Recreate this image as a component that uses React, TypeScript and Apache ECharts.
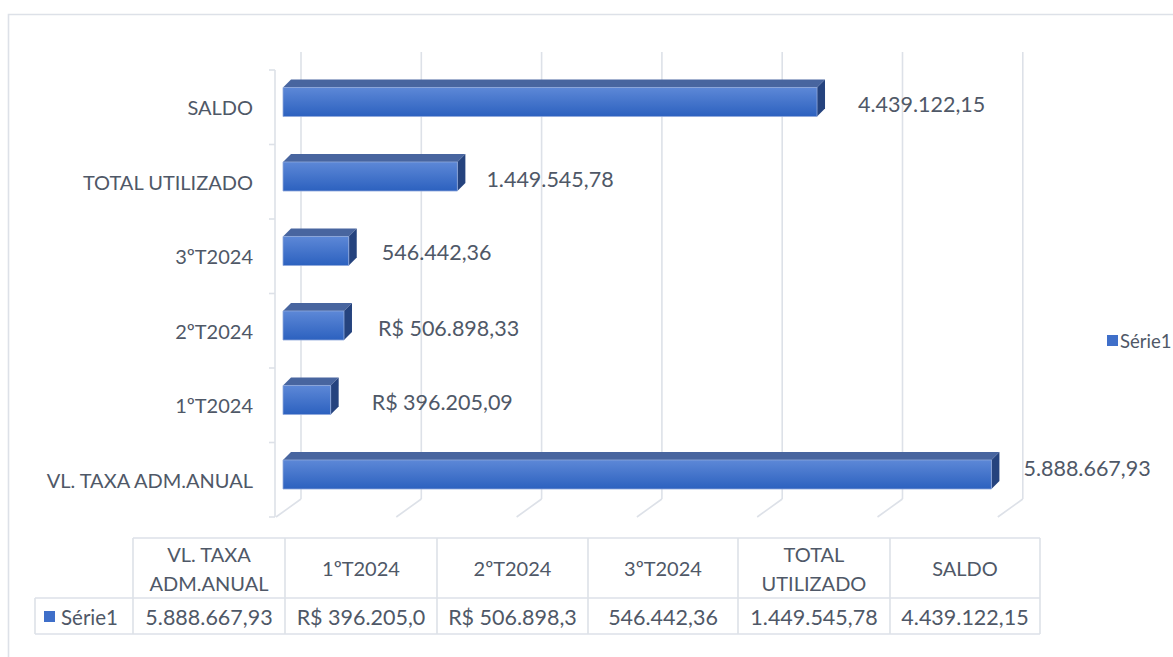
import React, { useEffect, useRef } from "react";
import * as echarts from "echarts";

// ---- data ----
const categories = ["VL. TAXA ADM.ANUAL", "1ºT2024", "2ºT2024", "3ºT2024", "TOTAL UTILIZADO", "SALDO"];
const values = [5888667.93, 396205.09, 506898.33, 546442.36, 1449545.78, 4439122.15];
const barLabels = ["5.888.667,93", "R$ 396.205,09", "R$ 506.898,33", "546.442,36", "1.449.545,78", "4.439.122,15"];
const tableHeaders = ["VL. TAXA\nADM.ANUAL", "1ºT2024", "2ºT2024", "3ºT2024", "TOTAL\nUTILIZADO", "SALDO"];
const tableValues = ["5.888.667,93", "R$ 396.205,0", "R$ 506.898,3", "546.442,36", "1.449.545,78", "4.439.122,15"];
const seriesName = "Série1";

// ---- style ----
const AXIS_MAX = 6000000;
const AXIS_STEP = 1000000;
const FONT = "Lato";
const TEXT = "#4f5867";
const LINE = "#dde1e8";
const VALUE_FS = 21.5;
const labelGap = [24, 33, 26, 25, 21, 33];
const labelDy = [-7, 2, 2, 1, 2, 2];

function renderFrame(params: any, api: any) {
  const cs = params.coordSys;
  const children: any[] = [];
  const DX = 25, DY = -18;
  const bottom = cs.y + cs.height;
  for (let v = 0; v <= AXIS_MAX; v += AXIS_STEP) {
    const xf = api.coord([v, 0])[0];
    children.push({
      type: "line",
      shape: { x1: xf + DX, y1: cs.y + DY, x2: xf + DX, y2: bottom + DY },
      style: { stroke: LINE, lineWidth: 1.6 },
    });
    children.push({
      type: "line",
      shape: { x1: xf + DX, y1: bottom + DY, x2: xf, y2: bottom },
      style: { stroke: LINE, lineWidth: 1.6 },
    });
  }
  const ax = cs.x - 1;
  children.push({
    type: "line",
    shape: { x1: ax, y1: cs.y, x2: ax, y2: bottom },
    style: { stroke: LINE, lineWidth: 1.6 },
  });
  const n = categories.length;
  for (let k = 0; k <= n; k++) {
    const y = cs.y + (cs.height * k) / n;
    children.push({
      type: "line",
      shape: { x1: ax - 6, y1: y, x2: ax, y2: y },
      style: { stroke: LINE, lineWidth: 1.6 },
    });
  }
  return { type: "group", children };
}

function renderBar(params: any, api: any) {
  const v = api.value(0);
  const c = api.value(1);
  const i = params.dataIndex;
  const p0 = api.coord([0, c]);
  const p1 = api.coord([v, c]);
  const band = api.size([0, 1])[1];
  const h = band * 0.39;
  const d = 8;
  const fx0 = p0[0] + 7;
  const fx1 = p1[0] + 7;
  const cy = p0[1] - 5.25;
  const yt = cy - h / 2;
  const yb = cy + h / 2;
  return {
    type: "group",
    children: [
      {
        type: "polygon",
        shape: { points: [[fx0, yt], [fx0 + d, yt - d], [fx1 + d, yt - d], [fx1, yt]] },
        style: { fill: "#48659f" },
      },
      {
        type: "polygon",
        shape: { points: [[fx1, yt], [fx1 + d, yt - d], [fx1 + d, yb - d], [fx1, yb]] },
        style: { fill: "#25437e" },
      },
      {
        type: "rect",
        shape: { x: fx0, y: yt, width: fx1 - fx0, height: h },
        style: {
          fill: new echarts.graphic.LinearGradient(0, 0, 0, 1, [
            { offset: 0, color: "#5d88d7" },
            { offset: 1, color: "#2c61bf" },
          ]),
          stroke: "#8fa8da",
          lineWidth: 0.8,
        },
      },
      {
        type: "text",
        style: {
          text: barLabels[i],
          x: fx1 + d + labelGap[i],
          y: cy + labelDy[i],
          align: "left",
          verticalAlign: "middle",
          fill: TEXT,
          fontSize: VALUE_FS,
          fontFamily: FONT,
        },
      },
    ],
  };
}

function buildTable() {
  const els: any[] = [];
  const colX = [133, 285, 437, 588, 738, 890, 1040];
  const yTop = 538, yMid = 598, yBot = 634;
  const ln = (x1: number, y1: number, x2: number, y2: number) => ({
    type: "line",
    shape: { x1, y1, x2, y2 },
    style: { stroke: LINE, lineWidth: 1.6 },
  });
  els.push(ln(133, yTop, 1040, yTop));
  els.push(ln(35, yMid, 1040, yMid));
  els.push(ln(35, yBot, 1040, yBot));
  els.push(ln(35, yMid, 35, yBot));
  colX.forEach((x) => els.push(ln(x, yTop, x, yBot)));
  tableHeaders.forEach((t, k) => {
    els.push({
      type: "text",
      style: {
        text: t,
        x: (colX[k] + colX[k + 1]) / 2,
        y: (yTop + yMid) / 2,
        align: "center",
        verticalAlign: "middle",
        fill: TEXT,
        fontSize: 20,
        lineHeight: 29,
        fontFamily: FONT,
      },
    });
  });
  tableValues.forEach((t, k) => {
    els.push({
      type: "text",
      style: {
        text: t,
        x: (colX[k] + colX[k + 1]) / 2,
        y: (yMid + yBot) / 2 + 1,
        align: "center",
        verticalAlign: "middle",
        fill: TEXT,
        fontSize: VALUE_FS,
        fontFamily: FONT,
      },
    });
  });
  els.push({ type: "rect", shape: { x: 44, y: 611, width: 11, height: 11 }, style: { fill: "#3f6fc9" } });
  els.push({
    type: "text",
    style: {
      text: seriesName,
      x: 61,
      y: 617,
      align: "left",
      verticalAlign: "middle",
      fill: TEXT,
      fontSize: 20.5,
      fontFamily: FONT,
    },
  });
  els.push({
    type: "rect",
    shape: { x: 8.5, y: 14.5, width: 1300, height: 800 },
    style: { fill: "none", stroke: LINE, lineWidth: 1.6 },
    z: -1,
  });
  return els;
}

export default function App() {
  const ref = useRef<HTMLDivElement>(null);
  useEffect(() => {
    if (!ref.current) return;
    const chart = echarts.init(ref.current, null, { renderer: "svg" });
    chart.setOption({
      animation: false,
      backgroundColor: "#ffffff",
      grid: { left: 276, top: 70, width: 721.8, height: 447, containLabel: false },
      xAxis: {
        type: "value",
        min: 0,
        max: AXIS_MAX,
        interval: AXIS_STEP,
        show: false,
      },
      yAxis: {
        type: "category",
        data: categories,
        axisLine: { show: false },
        axisTick: { show: false },
        splitLine: { show: false },
        axisLabel: { margin: 23, color: TEXT, fontSize: 20, fontFamily: FONT },
      },
      legend: {
        data: [seriesName],
        left: 1102,
        top: 326,
        orient: "vertical",
        icon: "rect",
        itemWidth: 11,
        itemHeight: 11,
        itemGap: 4,
        textStyle: { color: TEXT, fontSize: 18.5, fontFamily: FONT, padding: [0, 0, 0, -3] },
      },
      graphic: buildTable(),
      series: [
        {
          type: "custom",
          name: "frame",
          renderItem: renderFrame,
          data: [[0, 0]],
          encode: { x: 0, y: 1 },
          silent: true,
          z: 1,
        },
        {
          type: "custom",
          name: seriesName,
          renderItem: renderBar,
          itemStyle: { color: "#3f6fc9" },
          data: values.map((v, i) => [v, i]),
          encode: { x: 0, y: 1 },
          z: 2,
        },
      ],
    });
    return () => chart.dispose();
  }, []);
  return (
    <div
      ref={ref}
      style={{ position: "fixed", left: 0, top: 0, width: 1173, height: 657, background: "#fff" }}
    />
  );
}
